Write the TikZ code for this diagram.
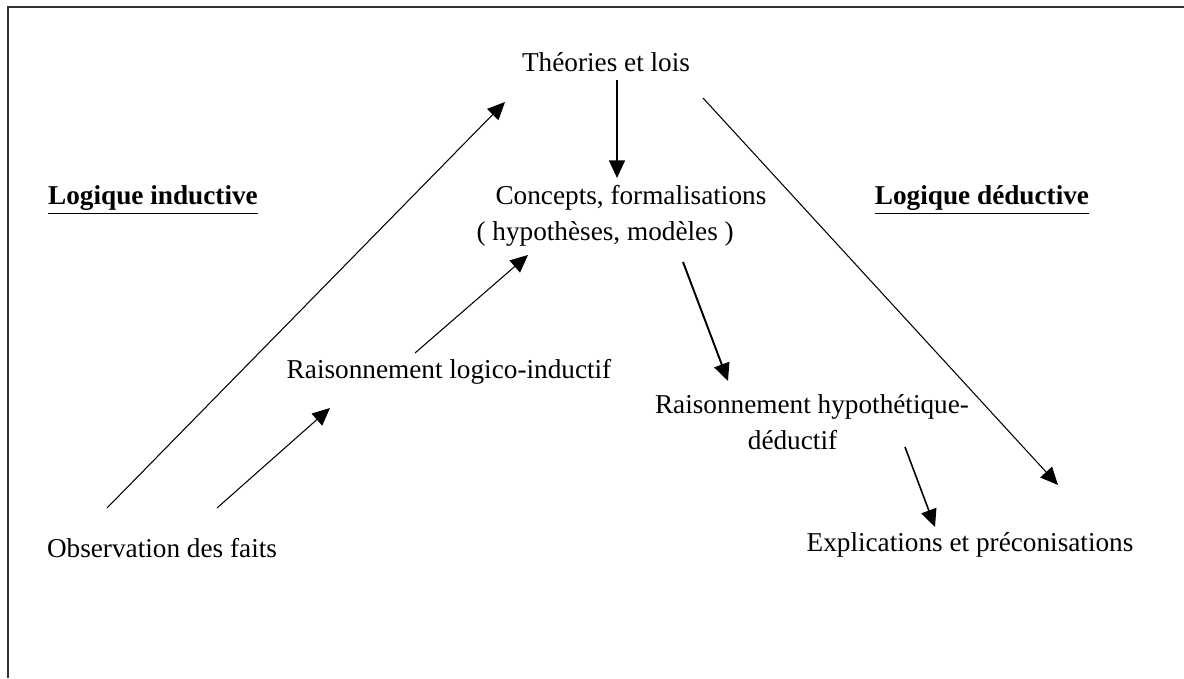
\documentclass[tikz,border=0pt]{standalone}
\usepackage{fontspec}
\setmainfont{Liberation Serif}
\usetikzlibrary{arrows.meta}

\tikzset{
    txt/.style={inner sep=0pt, font=\fontsize{15.5}{20.5}\selectfont},
    titre/.style={txt, font=\fontsize{15.5}{20.5}\selectfont\bfseries},
}

\begin{document}
\begin{tikzpicture}[>={Triangle[length=10pt, width=9pt]}, line width=0.6pt]
        \useasboundingbox (0, 0) rectangle (23.68, 13.56);
        \draw[line width=1.2pt, black!80] (0.16, 0) -- (0.16, 13.42) -- (23.68, 13.42);

        \node[txt] (theo) at (12.12, 12.32) {Théories et lois};
        \node[txt, anchor=west, align=left] (conc) at (9.52, 9.24)
            {\hspace*{0.38cm}Concepts, formalisations\\( hypothèses, modèles )};
        \node[txt] (logind) at (8.98, 6.12) {Raisonnement logico-inductif};
        \node[txt, align=center] (hyp) at (16.24, 5.11)
            {Raisonnement hypothétique-\\déductif\hspace*{0.78cm}};
        \node[txt] (obs) at (3.24, 2.60) {Observation des faits};
        \node[txt] (expl) at (19.40, 2.66) {Explications et préconisations};

        \node[titre] (li) at (3.06, 9.56) {\underline{Logique inductive}};
        \node[titre] (ld) at (19.64, 9.56) {\underline{Logique déductive}};

        % extremites des fleches
        \coordinate (obs1)  at (2.14,  3.40);
        \coordinate (obs2)  at (4.34,  3.40);
        \coordinate (theo1) at (10.10, 11.52);
        \coordinate (theo2) at (12.34, 11.96);
        \coordinate (theo3) at (14.06, 11.60);
        \coordinate (log1)  at (6.60,  5.40);
        \coordinate (log2)  at (8.30,  6.50);
        \coordinate (conc1) at (10.56, 8.46);
        \coordinate (conc2) at (12.34, 10.00);
        \coordinate (conc3) at (13.66, 8.32);
        \coordinate (hyp1)  at (14.56, 5.94);
        \coordinate (hyp2)  at (18.10, 4.62);
        \coordinate (expl1) at (18.70, 3.02);
        \coordinate (expl2) at (21.16, 3.86);

        \draw[->] (obs1) to (theo1);
        \draw[->] (obs2) to (log1);
        \draw[->] (log2) to (conc1);
        \draw[->, line width=1.1pt] (theo2) to (conc2);
        \draw[->] (theo3) to (expl2);
        \draw[->, line width=1.1pt] (conc3) to (hyp1);
        \draw[->, line width=0.9pt] (hyp2) to (expl1);
    \end{tikzpicture}
\end{document}
